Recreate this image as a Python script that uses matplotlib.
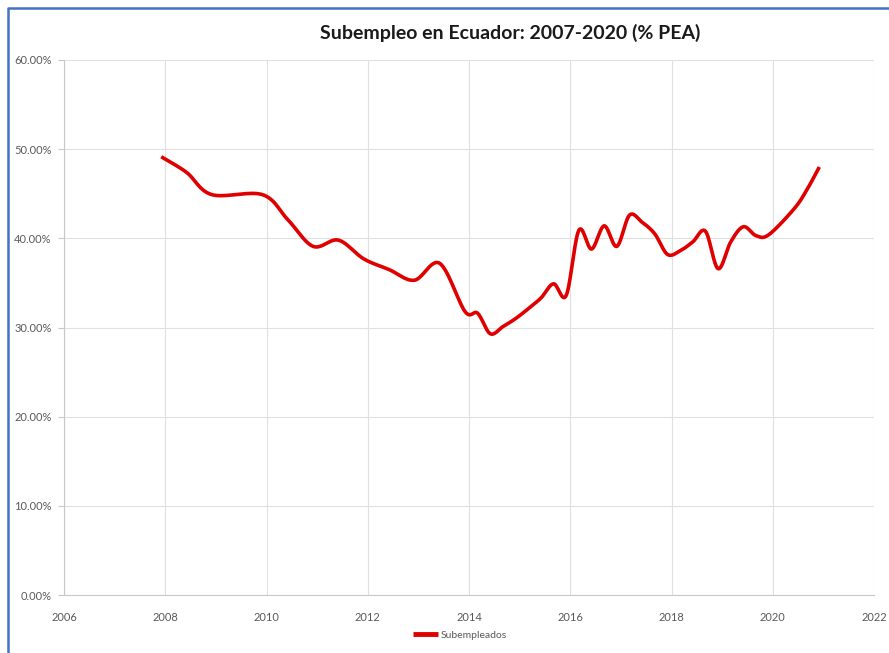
import numpy as np
import matplotlib
matplotlib.use("Agg")
import matplotlib.pyplot as plt
from matplotlib.lines import Line2D
from matplotlib.ticker import FuncFormatter

# Subempleo trimestral (% de la PEA), fecha en años decimales
fechas = [2007.92, 2008.42, 2008.92, 2009.92, 2010.42, 2010.92, 2011.42, 2011.92,
          2012.42, 2012.92, 2013.42, 2013.92, 2014.17, 2014.42, 2014.67, 2014.92,
          2015.17, 2015.42, 2015.67, 2015.92, 2016.17, 2016.42, 2016.67, 2016.92,
          2017.17, 2017.42, 2017.67, 2017.92, 2018.17, 2018.42, 2018.67, 2018.92,
          2019.17, 2019.42, 2019.67, 2019.92, 2020.42, 2020.67, 2020.92]
subempleo = [49.15, 47.4, 44.9, 44.9, 42.1, 39.1, 39.8, 37.7,
             36.5, 35.3, 37.2, 31.8, 31.6, 29.3, 30.1, 31.0,
             32.1, 33.3, 34.9, 33.6, 40.9, 38.8, 41.4, 39.1,
             42.6, 41.8, 40.5, 38.2, 38.6, 39.6, 40.8, 36.6,
             39.6, 41.3, 40.3, 40.4, 43.3, 45.4, 48.0]

titulo = "Subempleo en Ecuador: 2007-2020 (% PEA)"
serie = "Subempleados"


def suavizar(x, y, n=30):
    # curva suavizada tipo Excel (Bezier con tangentes Catmull-Rom)
    x = np.asarray(x, float)
    y = np.asarray(y, float)
    px = np.concatenate([[x[0]], x, [x[-1]]])
    py = np.concatenate([[y[0]], y, [y[-1]]])
    xs, ys = [], []
    t = np.linspace(0, 1, n)
    for i in range(1, len(px) - 2):
        p0 = np.array([px[i], py[i]])
        p3 = np.array([px[i + 1], py[i + 1]])
        p1 = p0 + (np.array([px[i + 1], py[i + 1]]) - np.array([px[i - 1], py[i - 1]])) / 6
        p2 = p3 - (np.array([px[i + 2], py[i + 2]]) - np.array([px[i], py[i]])) / 6
        b = ((1 - t) ** 3)[:, None] * p0 + (3 * (1 - t) ** 2 * t)[:, None] * p1 \
            + (3 * (1 - t) * t ** 2)[:, None] * p2 + (t ** 3)[:, None] * p3
        xs.extend(b[:, 0])
        ys.extend(b[:, 1])
    return np.array(xs), np.array(ys)


plt.rcParams['font.family'] = ['Lato', 'DejaVu Sans']
fig = plt.figure(figsize=(8.89, 6.53), dpi=100)
ax = fig.add_axes([64 / 889, 1 - 595 / 653, (874 - 64) / 889, (595 - 60) / 653])

xs, ys = suavizar(fechas, subempleo)
ax.plot(xs, ys, color="#e00000", lw=2.6, solid_capstyle="butt", label=serie)

ax.set_xlim(2006, 2022)
ax.set_ylim(0, 60)
ax.set_xticks(range(2006, 2023, 2))
ax.set_yticks(range(0, 61, 10))
ax.yaxis.set_major_formatter(FuncFormatter(lambda v, p: f"{v:.2f}%"))
ax.grid(True, color="#e0e0e0", lw=0.8)
ax.set_axisbelow(True)
for lado in ["top", "right"]:
    ax.spines[lado].set_visible(False)
for lado in ["left", "bottom"]:
    ax.spines[lado].set_color("#c8c8c8")
    ax.spines[lado].set_linewidth(0.8)
ax.tick_params(axis="y", colors="#c8c8c8", labelcolor="#595959", labelsize=8, length=4, pad=5)
ax.tick_params(axis="x", colors="#c8c8c8", labelcolor="#595959", labelsize=8, length=0, pad=12)

fig.text(510 / 889, 1 - 33 / 653, titulo, ha="center", va="center",
         fontsize=14, fontweight="bold", color="#1a1a1a")

leg = fig.legend(handles=[Line2D([], [], color="#e00000", lw=3.5, solid_capstyle="butt")],
                 labels=[serie], loc="center", bbox_to_anchor=(460 / 889, 1 - 635 / 653),
                 frameon=False, fontsize=7.5, handlelength=2.4, handletextpad=0.2,
                 labelcolor="#595959")

# marco azul del gráfico
fig.add_artist(Line2D([8 / 889, 8 / 889, 1], [0, 1 - 8 / 653, 1 - 8 / 653],
                      transform=fig.transFigure, color="#4472c4", lw=1.8))

fig.savefig("out.png", dpi=100)
